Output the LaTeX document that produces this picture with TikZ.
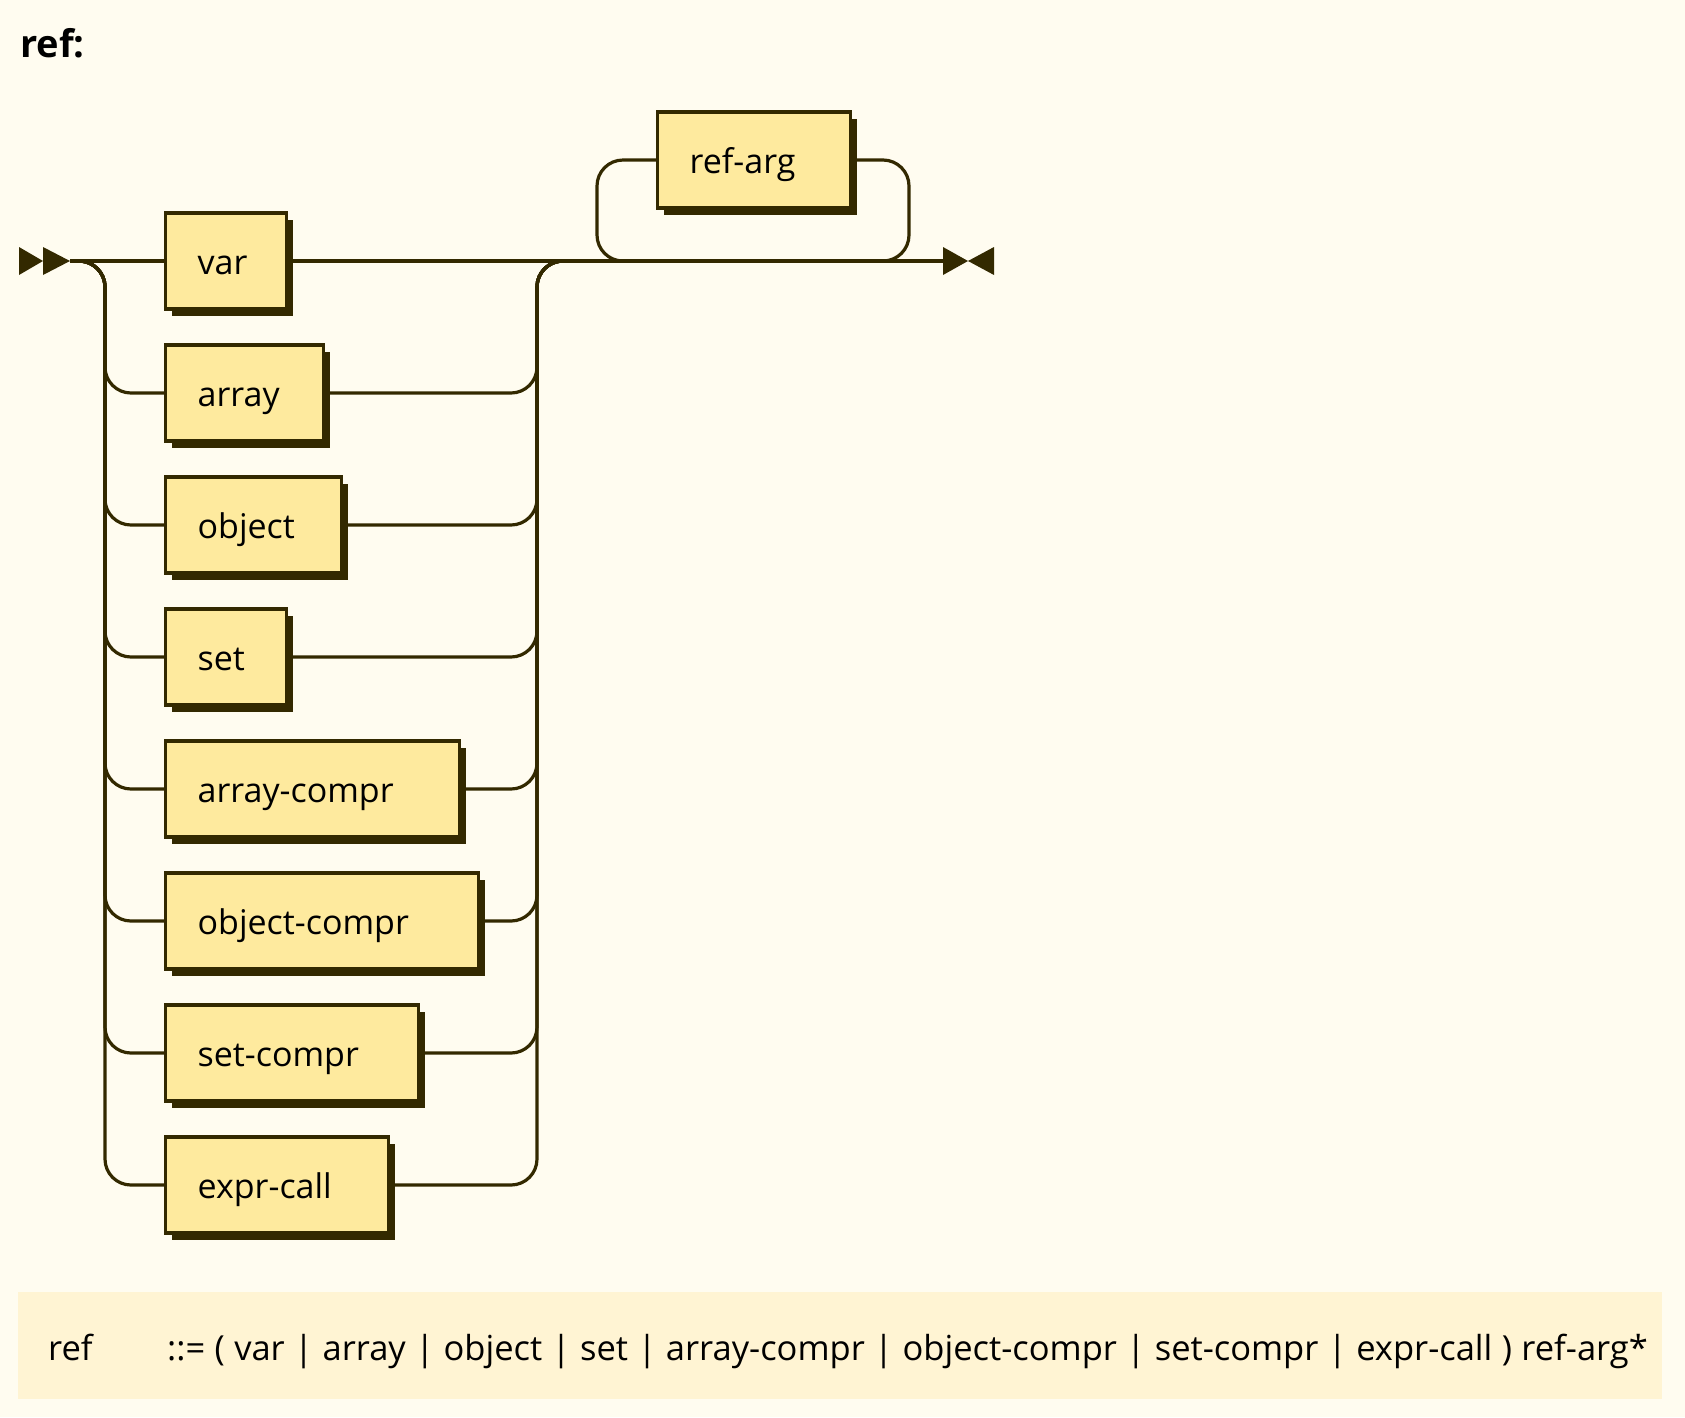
\documentclass[tikz,border=0pt]{standalone}
\usepackage{fontspec}
\setmainfont{Open Sans}
\usetikzlibrary{shadows}
\definecolor{bgc}{HTML}{FFFCF0}
\definecolor{boxc}{HTML}{FEEA9E}
\definecolor{ink}{HTML}{332900}
\definecolor{grm}{HTML}{FFF4D3}
\pgfdeclarelayer{back}
\pgfdeclarelayer{bg}
\pgfsetlayers{back,bg,main}
\begin{document}
\begin{tikzpicture}[x=1pt,y=-1pt,
  conn/.style={draw=ink, line width=3.2pt, rounded corners=26pt},
  nt/.style={draw=ink, fill=boxc, line width=3.3pt, anchor=west,
    minimum height=96pt, inner xsep=32pt, inner ysep=0pt, text width=#1,
    align=left, text height=26pt, text depth=0pt,
    font=\fontsize{34}{40}\selectfont, text=black,
    general shadow={fill=ink, shadow xshift=6.5pt, shadow yshift=-6.5pt}},
  txt/.style={anchor=base west, inner sep=0pt, text=black}]
\begin{pgfonlayer}{back}
\fill[bgc] (0,0) rectangle (1685,1417);
\end{pgfonlayer}
\useasboundingbox (0,0) rectangle (1685,1417);
% title
\node[txt, font=\bfseries\fontsize{38}{44}\selectfont] (title) at (20,57) {ref:};
% coordinates
\coordinate (start) at (70,261);
\coordinate (end) at (943,261);
\coordinate (lx) at (105,0);
\coordinate (rx) at (537,0);
\coordinate (ll) at (597,261);
\coordinate (lr) at (909,261);
% start / end arrows
\fill[ink] (19,247) -- (43,261) -- (19,275) -- cycle;
\fill[ink] (43,247) -- (start) -- (43,275) -- cycle;
\fill[ink] (943,247) -- (968,261) -- (943,275) -- cycle;
\fill[ink] (994,247) -- (968,261) -- (994,275) -- cycle;
% boxes
\node[nt=57pt] (var) at (164,261) {\mbox{var}};
\node[nt=94pt] (array) at (164,393) {\mbox{array}};
\node[nt=112pt] (object) at (164,525) {\mbox{object}};
\node[nt=57pt] (set) at (164,657) {\mbox{set}};
\node[nt=230pt] (arraycompr) at (164,789) {\mbox{array-compr}};
\node[nt=249pt] (objectcompr) at (164,921) {\mbox{object-compr}};
\node[nt=189pt] (setcompr) at (164,1053) {\mbox{set-compr}};
\node[nt=159pt] (exprcall) at (164,1185) {\mbox{expr-call}};
\node[nt=129pt] (refarg) at (656,160) {\mbox{ref-arg}};
% connectors (under the boxes)
\begin{pgfonlayer}{bg}
\draw[conn] (start) -- (var.west);
\draw[conn] (var.east) -- (end);
\foreach \b in {array,object,set,arraycompr,objectcompr,setcompr,exprcall}{
  \draw[conn] (start) -| (lx |- \b.west) -- (\b.west);
  \draw[conn] (\b.east) -| (rx |- var.east) -- (end);
}
\draw[conn] (refarg.west) -| (ll) -- (lr) |- (refarg.east);
\end{pgfonlayer}
% grammar box
\fill[grm] (18,1292) rectangle (1662,1399);
\node[txt, font=\fontsize{34.5}{40}\selectfont] (lhs) at (48,1360) {ref};
\node[txt, font=\fontsize{34.5}{40}\selectfont] (rhs) at (167,1360) {\spaceskip=9.4pt\relax ::=\ ( var | array | object | set | array-compr | object-compr | set-compr | expr-call ) ref-arg*};
\end{tikzpicture}
\end{document}
